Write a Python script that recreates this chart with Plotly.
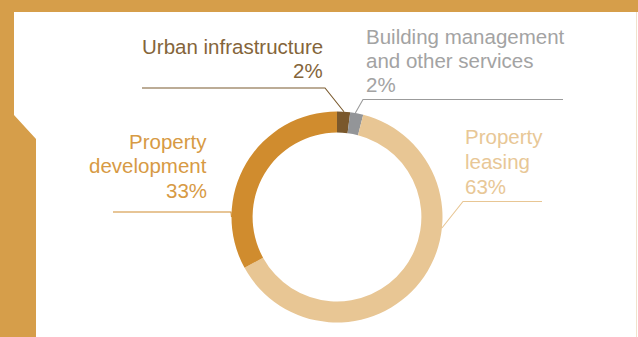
import math
import plotly.graph_objects as go

# Revenue breakdown by segment (%)
categories = ["Urban infrastructure", "Building management and other services",
              "Property leasing", "Property development"]
values = [2, 2, 63, 33]
label_lines = [["Urban infrastructure"],
               ["Building management", "and other services"],
               ["Property", "leasing"],
               ["Property", "development"]]

slice_colors = ["#7a582c", "#939598", "#e8c694", "#d08c2e"]
text_colors = ["#84653a", "#a3a3a3", "#e8c796", "#d79a44"]
frame_color = "#d69e4a"

W, H = 638, 337
CX, CY, R = 337, 217, 105.5
HOLE = 0.80


def px(x):
    return x / W


def py(y):
    return 1 - y / H


def ring_point(angle_deg, r=R):
    a = math.radians(angle_deg)
    return CX + r * math.sin(a), CY - r * math.cos(a)


fig = go.Figure(go.Pie(
    labels=categories,
    values=values,
    marker=dict(colors=slice_colors, line=dict(width=0)),
    hole=HOLE,
    sort=False,
    direction="clockwise",
    rotation=0,
    textinfo="none",
    hoverinfo="label+percent",
    showlegend=False,
    domain=dict(x=[px(CX - R), px(CX + R)], y=[py(CY + R), py(CY - R)]),
))

shapes = []

# Gold frame: top band and notched left band
shapes.append(dict(type="rect", xref="paper", yref="paper",
                   x0=0, x1=1, y0=py(12), y1=1,
                   fillcolor=frame_color, line=dict(width=0), layer="below"))
frame_pts = [(0, 12), (14, 12), (14, 115), (36, 139), (36, H), (0, H)]
path = "M " + " L ".join(f"{px(x)},{py(y)}" for x, y in frame_pts) + " Z"
shapes.append(dict(type="path", xref="paper", yref="paper", path=path,
                   fillcolor=frame_color, line=dict(width=0), layer="below"))
shapes.append(dict(type="line", xref="paper", yref="paper",
                   x0=px(636.5), x1=px(636.5), y0=py(12), y1=0,
                   line=dict(color="#f1e2cc", width=1)))

# Leader lines: (angle on ring, elbow point, end point, colour)
leaders = [
    (3.8, (325, 88), (142, 88), "#7a5a2e"),
    (10.0, (363, 99.5), (563, 99.5), "#9b9b9b"),
    (96.0, (463, 201.5), (542, 201.5), "#e8c694"),
    (270.0, (231, 212), (113, 212), "#d08c2e"),
]
for ang, elbow, end, col in leaders:
    sx, sy = ring_point(ang)
    pts = [(sx, sy), elbow, end]
    p = "M " + " L ".join(f"{px(x)},{py(y)}" for x, y in pts)
    shapes.append(dict(type="path", xref="paper", yref="paper", path=p,
                       line=dict(color=col, width=1.1)))

FONT = "Liberation Sans"
FS = 20.5

# Label blocks: (x, y of first line centre, anchor)
label_pos = [
    (325, 46, "right"),
    (364, 36, "left"),
    (463, 137, "left"),
    (209, 141, "right"),
]
LINE_H = 24.5
annotations = []
for lines, v, (x, y0, anchor), col in zip(label_lines, values, label_pos, text_colors):
    all_lines = lines + [f"{v}%"]
    for i, t in enumerate(all_lines):
        annotations.append(dict(
            text=t, xref="paper", yref="paper",
            x=px(x), y=py(y0 + i * LINE_H),
            xanchor=anchor, yanchor="middle", showarrow=False,
            font=dict(family=FONT, size=FS, color=col),
        ))

fig.update_layout(
    width=W, height=H,
    margin=dict(l=0, r=0, t=0, b=0),
    paper_bgcolor="white",
    plot_bgcolor="white",
    shapes=shapes,
    annotations=annotations,
)

fig.write_html("out.html")
